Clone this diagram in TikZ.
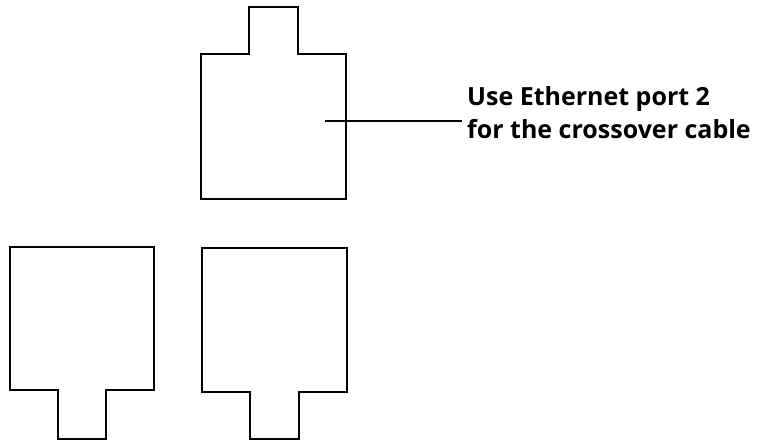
\documentclass[tikz,border=0pt]{standalone}
\usepackage{fontspec}
\setmainfont{Open Sans}
\begin{document}
\begin{tikzpicture}[x=1pt,y=-1pt,
  outline/.style={draw=black,line width=1.7pt,line join=miter},
  lbl/.style={font=\bfseries\fontsize{25}{34}\selectfont,inner sep=0pt,anchor=base west}]
\useasboundingbox (0,0) rectangle (757,441);
% top connector (tab up)
\draw[outline] (201,199) -- (201,54.3) -- (249,54.3) -- (249,6.7) -- (297.7,6.7) -- (297.7,54.3) -- (345.7,54.3) -- (345.7,199) -- cycle;
% bottom-left connector (tab down)
\draw[outline] (9.7,247.3) -- (154,247.3) -- (154,390.3) -- (106.3,390.3) -- (106.3,439) -- (58,439) -- (58,390.3) -- (9.7,390.3) -- cycle;
% bottom-right connector (tab down)
\draw[outline] (202,248) -- (347.3,248) -- (347.3,391.7) -- (298.7,391.7) -- (298.7,439) -- (249.7,439) -- (249.7,391.7) -- (202,391.7) -- cycle;
\coordinate (p) at (325,121);
\node[lbl] (note1) at (467,106) {Use Ethernet port 2};
\node[lbl] (note2) at (467,139) {for the crossover cable};
\coordinate (e) at (461.7,121);
\draw[line width=1.5pt] (p) -- (e);
\end{tikzpicture}
\end{document}
